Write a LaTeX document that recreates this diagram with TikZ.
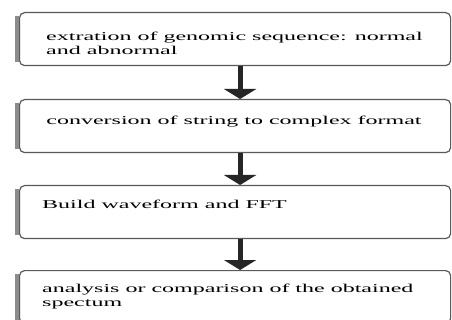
\documentclass[tikz,border=0pt]{standalone}
\usepackage{fontspec}
\setmainfont{Liberation Serif}[FakeStretch=2.0]
\usetikzlibrary{arrows.meta}
\tikzset{
  stepbox/.style={draw=gray!70!black, line width=1.2pt, rounded corners=5pt, fill=white,
    minimum width=431pt, minimum height=53pt, anchor=north west, inner sep=0pt},
  leftband/.style={draw=black!45, line width=4pt},
  flowarrow/.style={draw=black!85, line width=5pt, -{Triangle[width=32pt,length=10pt]}},
  boxtext/.style={anchor=north west, align=left, inner sep=0pt, font=\fontsize{12}{13.5}\selectfont}
}
\begin{document}
\begin{tikzpicture}[x=1pt,y=-1pt]
\useasboundingbox[fill=white] (0,0) rectangle (452,320);
% boxes
\node[stepbox] (b1) at (19,12) {};
\node[stepbox] (b2) at (19,99) {};
\node[stepbox] (b3) at (19,185) {};
\node[stepbox] (b4) at (19,270) {};
% left bands
\foreach \b in {b1,b2,b3,b4}{
  \draw[leftband] ([xshift=-2pt,yshift=-4pt]\b.north west) -- ([xshift=-2pt,yshift=4pt]\b.south west);
}
% texts
\node[boxtext] (t1) at (46,32) {extration of genomic sequence: normal\\and abnormal};
\node[boxtext, anchor=center] (t2) at (234,122) {conversion of string to complex format};
\node[boxtext] (t3) at (42,200) {Build waveform and FFT};
\node[boxtext] (t4) at (42,284) {analysis or comparison of the obtained\\spectum};
% arrows
\draw[flowarrow] ([xshift=5pt]b1.south) -- ([xshift=5pt]b2.north);
\draw[flowarrow] ([xshift=5pt]b2.south) -- ([xshift=5pt]b3.north);
\draw[flowarrow] ([xshift=5pt]b3.south) -- ([xshift=5pt]b4.north);
\end{tikzpicture}
\end{document}
